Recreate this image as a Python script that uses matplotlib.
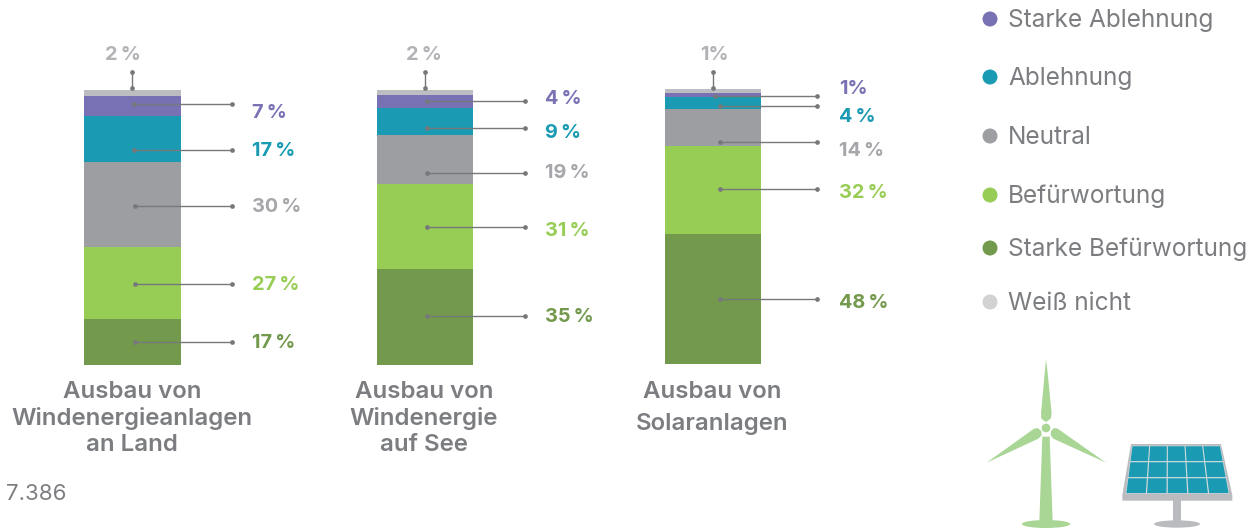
#!/usr/bin/env python
'''
stacked bars: acceptance of wind and solar expansion, with leader lines and a small icon
'''
from matplotlib import pyplot as plt
from matplotlib.patches import Polygon, Ellipse, Circle
import numpy as np

plt.rcParams['font.family'] = ['Inter', 'DejaVu Sans']

# stack order is bottom to top
categories = ['Ausbau von\nWindenergieanlagen\nan Land', 'Ausbau von\nWindenergie\nauf See', 'Ausbau von\nSolaranlagen']
segments = ['Starke Befürwortung', 'Befürwortung', 'Neutral', 'Ablehnung', 'Starke Ablehnung', 'Weiß nicht']
shares_land = [16.7, 26.2, 30.9, 16.7, 7.3, 2.2]
shares_see = [34.9, 30.9, 17.8, 9.8, 4.7, 1.9]
shares_solar = [47.3, 32.0, 13.5, 4.4, 1.4, 1.4]
labels_land = ['17', '27', '30', '17', '7', '2']
labels_see = ['35', '31', '19', '9', '4', '2']
labels_solar = ['48', '32', '14', '4', '1', '1']
legend_order = ['Starke Ablehnung', 'Ablehnung', 'Neutral', 'Befürwortung', 'Starke Befürwortung', 'Weiß nicht']
footnote = '7.386'

colours = {'Starke Befürwortung': '#73994D', 'Befürwortung': '#97CD54', 'Neutral': '#9D9EA2',
           'Ablehnung': '#1A9BB3', 'Starke Ablehnung': '#7872B5', 'Weiß nicht': '#BBBDC0'}
label_colours = dict(colours)
label_colours['Neutral'] = '#A6A7AA'
label_colours['Weiß nicht'] = '#B2B3B6'
legend_colours = dict(colours)
legend_colours['Weiß nicht'] = '#D2D2D2'
text_grey = '#7B7D80'
leader_grey = '#77787A'

W, H = 1258, 528
fig = plt.figure(figsize=(W/100, H/100), dpi=100)
fig.patch.set_facecolor('white')

# left, right, top, bottom of each bar in pixels
bar_boxes = [(84, 181, 90, 365), (377, 473, 90, 365), (665, 761, 89, 364)]
for box, shares in zip(bar_boxes, [shares_land, shares_see, shares_solar]):
    ax = fig.add_axes([box[0]/W, 1-box[3]/H, (box[1]-box[0])/W, (box[3]-box[2])/H])
    bottom = 0
    for name, val in zip(segments, shares):
        ax.bar(0, val, width=1, bottom=bottom, color=colours[name], linewidth=0)
        bottom += val
    ax.set_xlim(-0.5, 0.5)
    ax.set_ylim(0, 100)
    ax.axis('off')

# overlay in pixel coordinates for leaders, text and icon
ov = fig.add_axes([0, 0, 1, 1], zorder=5)
ov.set_xlim(0, W)
ov.set_ylim(H, 0)
ov.axis('off')
ov.patch.set_alpha(0)

def leader(x0, y0, x1, y1):
    ov.plot((x0, x1), (y0, y1), color=leader_grey, lw=1.0, marker='o', ms=3.4, mew=0)

def pct(val):
    # the original sets a thin space before the sign, except after a narrow 1
    if val == '1':
        return '1%'
    return '%s\u2009%%' % val

# per chart: top leader x, value leader start x, end x, label x, top label x
layout = [
    dict(top=132, start=[135, 135, 135, 134, 134], end=232, tx=252, ttx=123,
         ly=[342, 284, 206, 150, 104], ty=[341, 284, 205, 150, 112]),
    dict(top=425, start=[427, 427, 427, 427, 427], end=525, tx=545, ttx=424,
         ly=[316, 227, 173, 128, 101], ty=[316, 229, 172, 131, 98]),
    dict(top=713, start=[720, 720, 720, 720, 715], end=817, tx=839, ttx=714,
         ly=[299, 189, 141.5, 106, 96], ty=[301, 191, 150, 116, 87]),
]
for lay, labels in zip(layout, [labels_land, labels_see, labels_solar]):
    leader(lay['top'], 72, lay['top'], 88)
    ov.text(lay['ttx'], 55.5, pct(labels[5]), color=label_colours['Weiß nicht'], fontsize=14.3,
            fontweight='bold', ha='center', va='center')
    for i in range(5):
        leader(lay['start'][i], lay['ly'][i], lay['end'], lay['ly'][i])
        ov.text(lay['tx'], lay['ty'][i]+1.5, pct(labels[i]), color=label_colours[segments[i]], fontsize=14.3,
                fontweight='bold', ha='left', va='center')

# category captions
caption_x = [132, 424, 712]
caption_y = [[392, 418, 445], [392, 418, 445], [392, 424]]
for cat, cx, ys in zip(categories, caption_x, caption_y):
    for line, y in zip(cat.split('\n'), ys):
        ov.text(cx, y, line, color=text_grey, fontsize=17.3, fontweight='semibold', ha='center', va='center')

ov.text(6, 494, footnote, color=text_grey, fontsize=16, ha='left', va='center')

# legend
legend_y = [19, 77, 136, 195, 248, 302]
for name, y in zip(legend_order, legend_y):
    ov.add_patch(Ellipse((990, y), 15, 15, color=legend_colours[name], lw=0))
    ov.text(1008, y+1.5, name, color=text_grey, fontsize=17.6, ha='left', va='center')

# icon, outlines
def z(x, y):
    return (960+x/3., 350+y/3.)

def poly(pts, col):
    ov.add_patch(Polygon([z(*p) for p in pts], closed=True, color=col, lw=0))

wind_green = '#A9D695'
poly([(258, 28), (262, 60), (275, 190), (272, 206), (258, 216), (244, 206), (243, 190), (255, 60)], wind_green)
poly([(80, 338), (222, 236), (233, 234), (244, 243), (245, 256), (235, 266)], wind_green)
poly([(438, 338), (293, 236), (282, 234), (273, 243), (272, 256), (280, 266)], wind_green)
ov.add_patch(Circle(z(258, 234), 13/3., color=wind_green, lw=0))
poly([(247, 260), (269, 260), (278, 515), (238, 515)], wind_green)
ov.add_patch(Ellipse(z(258, 522), 145/3., 24/3., color=wind_green, lw=0))

panel_grey = '#B9BBBF'
poly([(640, 450), (662, 450), (662, 515), (640, 515)], panel_grey)
ov.add_patch(Ellipse(z(651, 522), 138/3., 22/3., color=panel_grey, lw=0))
poly([(513, 282), (783, 282), (817, 436), (817, 452), (487, 452), (487, 436)], panel_grey)
poly([(516, 287), (781, 287), (808, 431), (497, 431)], '#DADBDD')

# panel cells on a perspective grid
def grid_xy(u, v):
    left = 516 + (497-516)*v
    right = 781 + (808-781)*v
    return (left + (right-left)*u, 287 + (431-287)*v)

gap_u, gap_v = 0.006, 0.012
for col in range(5):
    for row in range(3):
        u0, u1 = col/5.+gap_u, (col+1)/5.-gap_u
        v0, v1 = row/3.+gap_v, (row+1)/3.-gap_v
        poly([grid_xy(u0, v0), grid_xy(u1, v0), grid_xy(u1, v1), grid_xy(u0, v1)], colours['Ablehnung'])

fig.savefig('out.png', dpi=100)
